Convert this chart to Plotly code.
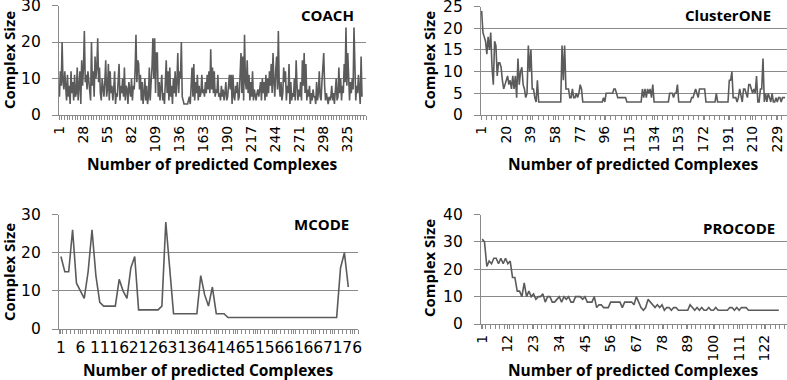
import plotly.graph_objects as go

# ---------------- data ----------------
coach_sizes = [
    5, 12, 8, 20, 9, 7, 12, 6, 4, 11,
    5, 8, 3, 12, 6, 9, 4, 11, 5, 6,
    13, 4, 9, 12, 3, 15, 8, 13, 23, 9,
    11, 7, 12, 9, 6, 4, 20, 8, 12, 5,
    16, 10, 13, 21, 9, 13, 6, 4, 10, 7,
    5, 9, 15, 5, 7, 14, 4, 12, 6, 8,
    4, 7, 12, 3, 6, 5, 9, 14, 4, 8,
    6, 10, 5, 13, 4, 8, 7, 3, 9, 6,
    5, 10, 4, 8, 7, 12, 22, 9, 15, 14,
    7, 11, 4, 9, 3, 6, 10, 4, 8, 3,
    5, 13, 4, 9, 13, 21, 10, 21, 6, 17,
    17, 5, 9, 4, 7, 11, 4, 6, 3, 9,
    15, 6, 12, 4, 13, 5, 8, 3, 10, 6,
    12, 5, 9, 17, 6, 12, 10, 20, 5, 4,
    3, 3, 3, 3, 3, 4, 5, 3, 7, 13,
    5, 14, 4, 9, 6, 11, 4, 8, 5, 6,
    11, 6, 7, 5, 9, 6, 11, 7, 12, 6,
    18, 7, 13, 6, 12, 5, 7, 6, 11, 5,
    6, 4, 8, 5, 7, 4, 6, 9, 4, 5,
    8, 11, 7, 11, 3, 11, 5, 4, 8, 6,
    9, 4, 5, 10, 17, 6, 16, 4, 22, 9,
    7, 15, 6, 11, 4, 9, 5, 12, 4, 7,
    5, 4, 6, 7, 5, 8, 9, 4, 10, 6,
    9, 4, 11, 5, 10, 6, 12, 8, 14, 6,
    17, 9, 5, 12, 16, 7, 23, 8, 5, 9,
    4, 6, 13, 9, 12, 4, 8, 6, 14, 3,
    9, 4, 6, 5, 10, 4, 15, 8, 4, 7,
    5, 9, 4, 15, 8, 17, 6, 14, 4, 7,
    5, 8, 3, 6, 4, 7, 5, 5, 3, 9,
    4, 6, 12, 5, 4, 9, 13, 17, 8, 4,
    6, 4, 3, 5, 4, 5, 8, 4, 6, 3,
    7, 10, 4, 5, 13, 6, 10, 4, 8, 6,
    14, 9, 24, 8, 17, 10, 4, 9, 6, 10,
    7, 24, 12, 4, 8, 6, 11, 5, 3, 16,
    5,
]

clusterone_sizes = [
    24, 19, 18, 17, 14, 18, 15, 19, 11, 7,
    17, 16, 9, 12, 12, 11, 8, 6, 7, 8,
    9, 7, 8, 6, 9, 6, 9, 4, 13, 7,
    10, 11, 7, 6, 4, 5, 16, 10, 15, 6,
    6, 4, 3, 8, 3, 3, 3, 3, 3, 3,
    3, 3, 3, 3, 3, 3, 3, 3, 3, 3,
    3, 3, 16, 8, 16, 6, 6, 6, 4, 4,
    6, 4, 4, 5, 4, 5, 7, 6, 3, 3,
    3, 3, 3, 3, 3, 3, 3, 3, 3, 3,
    3, 3, 3, 3, 4, 3, 5, 5, 5, 5,
    5, 5, 6, 6, 5, 4, 4, 4, 4, 4,
    4, 4, 3, 3, 3, 3, 3, 3, 3, 3,
    3, 3, 3, 3, 6, 4, 6, 4, 6, 5,
    6, 4, 7, 3, 3, 3, 3, 3, 3, 3,
    3, 3, 3, 3, 3, 5, 5, 5, 4, 5,
    5, 7, 3, 3, 3, 3, 3, 3, 3, 3,
    3, 3, 4, 4, 5, 6, 5, 4, 6, 6,
    6, 6, 6, 3, 3, 3, 3, 3, 3, 3,
    3, 5, 3, 3, 3, 3, 3, 3, 3, 3,
    3, 8, 8, 10, 4, 4, 4, 3, 4, 6,
    4, 3, 6, 6, 5, 4, 7, 7, 6, 5,
    6, 5, 9, 3, 3, 6, 6, 13, 3, 5,
    3, 5, 4, 3, 5, 3, 3, 4, 3, 4,
    4, 3, 4, 4, 4,
]

mcode_sizes = [
    19, 15, 15, 26, 12, 10, 8, 15, 26, 14,
    7, 6, 6, 6, 6, 13, 10, 8, 16, 19,
    5, 5, 5, 5, 5, 5, 6, 28, 16, 4,
    4, 4, 4, 4, 4, 4, 14, 9, 6, 11,
    4, 4, 4, 3, 3, 3, 3, 3, 3, 3,
    3, 3, 3, 3, 3, 3, 3, 3, 3, 3,
    3, 3, 3, 3, 3, 3, 3, 3, 3, 3,
    3, 3, 16, 20, 11,
]

procode_sizes = [
    31, 30, 21, 23, 22, 24, 24, 22, 24, 22,
    24, 22, 23, 17, 17, 12, 12, 10, 15, 10,
    12, 10, 11, 9, 10, 10, 11, 8, 10, 10,
    8, 8, 9, 10, 8, 10, 9, 10, 8, 8,
    10, 10, 10, 9, 10, 8, 8, 8, 10, 6,
    7, 7, 6, 6, 6, 8, 8, 8, 8, 8,
    6, 8, 8, 8, 8, 7, 10, 8, 6, 5,
    6, 9, 8, 7, 6, 7, 6, 7, 5, 6,
    6, 5, 6, 6, 5, 5, 5, 5, 5, 7,
    6, 5, 6, 5, 6, 5, 5, 6, 5, 5,
    6, 5, 5, 5, 5, 5, 6, 6, 5, 6,
    5, 6, 6, 6, 5, 5, 5, 5, 5, 5,
    5, 5, 5, 5, 5, 5, 5, 5,
]

panel_titles = ["COACH", "ClusterONE", "MCODE", "PROCODE"]
x_title = "Number of predicted Complexes"
y_title = "Complex Size"

# ---------------- layout helpers ----------------
W, H = 787, 380
LINE = "#5b5b5b"
GRID = "#8a8a8a"
AXC = "#8a8a8a"
TICKFONT = "DejaVu Sans"
TITLEFONT = "Open Sans"


def fx(p):
    return p / W


def fy(p):
    return 1 - p / H


panels = [
    dict(data=coach_sizes, n=345, step=27, ymax=30, dy=10, box=(59, 366, 5.5, 115), rot=-90, mstep=3, xfs=14),
    dict(data=clusterone_sizes, n=236, step=19, ymax=25, dy=5, box=(481, 787, 6.5, 115), rot=-90, mstep=4, xfs=14),
    dict(data=mcode_sizes, n=77, step=5, ymax=30, dy=10, box=(59, 358, 214.5, 329), rot=0, mstep=1, xfs=15.5),
    dict(data=procode_sizes, n=131, step=11, ymax=40, dy=10, box=(481, 787, 214.5, 324), rot=-90, mstep=2, xfs=14),
]

fig = go.Figure()
annotations = []

for k, p in enumerate(panels):
    idx = "" if k == 0 else str(k + 1)
    xs = list(range(1, len(p["data"]) + 1))
    fig.add_trace(go.Scatter(
        x=xs, y=p["data"], mode="lines",
        line=dict(color=LINE, width=1.6),
        xaxis="x" + idx, yaxis="y" + idx, showlegend=False,
        hoverinfo="skip", cliponaxis=True,
    ))
    x0, x1, yt, yb = p["box"]
    tickvals = list(range(1, p["n"] + 1, p["step"]))
    fig.update_layout(**{
        "xaxis" + idx: dict(
            domain=[fx(x0), min(fx(x1), 1.0)],
            anchor="y" + idx,
            range=[0.5, p["n"] + 0.5],
            tickmode="array", tickvals=tickvals, ticktext=[str(v) for v in tickvals],
            tickangle=p["rot"],
            ticks="outside", ticklen=4, tickcolor=AXC, tickwidth=1,
            minor=dict(tick0=0.5, dtick=p["mstep"], ticks="outside", ticklen=4,
                       tickcolor=AXC, tickwidth=1),
            showline=True, linecolor=AXC, linewidth=1.3,
            showgrid=False, zeroline=False, automargin=False,
            ticklabeloverflow="allow",
            tickfont=dict(family=TICKFONT, size=p["xfs"], color="#000000"),
            fixedrange=True,
        ),
        "yaxis" + idx: dict(
            domain=[fy(yb), fy(yt)],
            anchor="x" + idx,
            range=[0, p["ymax"]],
            dtick=p["dy"], tick0=0,
            showgrid=True, gridcolor=GRID, gridwidth=1.3,
            showline=True, linecolor=AXC, linewidth=1.3,
            ticks="outside", ticklen=6, tickcolor=AXC, tickwidth=1.3,
            ticklabelstandoff=8,
            zeroline=False, automargin=False,
            ticklabeloverflow="allow",
            tickfont=dict(family=TICKFONT, size=15.5, color="#000000"),
            fixedrange=True,
        ),
    })

# panel titles (inside, top right)
title_pos = [(356, 15), (773, 15), (351, 224), (777, 228)]
for t, (x, y) in zip(panel_titles, title_pos):
    annotations.append(dict(
        text="<b>%s</b>" % t, x=fx(x), y=fy(y), xref="paper", yref="paper",
        xanchor="right", yanchor="middle", showarrow=False,
        font=dict(family=TITLEFONT, size=15, color="#000000"),
    ))

# axis titles
xt_pos = [(212, 164), (633, 164), (208, 370), (633, 370)]
for (x, y) in xt_pos:
    annotations.append(dict(
        text="<b>%s</b>" % x_title, x=fx(x), y=fy(y), xref="paper", yref="paper",
        xanchor="center", yanchor="middle", showarrow=False, borderpad=0,
        font=dict(family=TITLEFONT, size=15.5, color="#000000"),
    ))
yt_pos = [(9, 60), (429, 60), (9, 272), (429, 268)]
for (x, y) in yt_pos:
    annotations.append(dict(
        text="<b>%s</b>" % y_title, x=fx(x), y=fy(y), xref="paper", yref="paper",
        xanchor="center", yanchor="middle", showarrow=False, textangle=-90, borderpad=0,
        font=dict(family=TITLEFONT, size=15, color="#000000"),
    ))

fig.update_layout(
    width=W, height=H,
    margin=dict(l=0, r=0, t=0, b=0, autoexpand=False),
    paper_bgcolor="white", plot_bgcolor="white",
    annotations=annotations,
    showlegend=False,
)

fig.write_html(
    "out.html",
    config={"displayModeBar": False},
    post_script="document.body.style.margin='0';document.body.style.overflow='hidden';",
)
